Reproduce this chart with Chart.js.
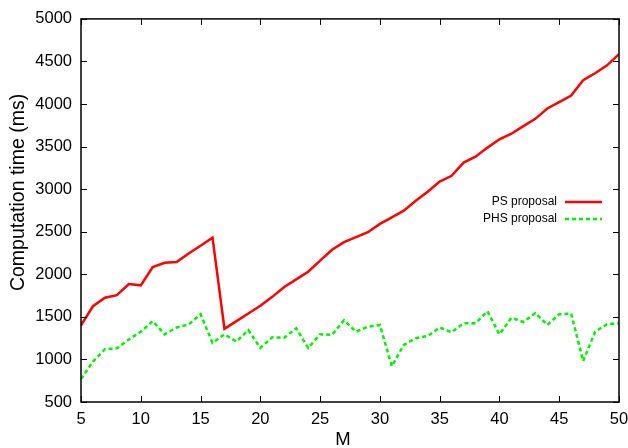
<!DOCTYPE html>
<html>
<head>
<meta charset="utf-8">
<script src="https://cdn.jsdelivr.net/npm/chart.js@4"></script>
<style>
  html, body { margin: 0; padding: 0; background: #fff; }
  #wrap { width: 628px; height: 448px; }
</style>
</head>
<body>
<div id="wrap"><canvas id="chart" width="628" height="448"></canvas></div>
<script>
// M values on the x axis
const mValues = [5, 6, 7, 8, 9, 10, 11, 12, 13, 14, 15, 16, 17, 18, 19, 20, 21, 22, 23, 24, 25, 26, 27,
    28, 29, 30, 31, 32, 33, 34, 35, 36, 37, 38, 39, 40, 41, 42, 43, 44, 45, 46, 47, 48, 49, 50];

// computation time in ms
const psTimes = [1400, 1625, 1725, 1755, 1885, 1870, 2085, 2135, 2145, 2245, 2335, 2430, 1360, 1450,
    1540, 1630, 1735, 1850, 1940, 2030, 2160, 2288, 2377, 2436, 2494, 2592, 2669, 2748, 2864, 2970,
    3090, 3157, 3312, 3382, 3488, 3586, 3651, 3741, 3826, 3948, 4022, 4100, 4279, 4361, 4454, 4586];

const phsTimes = [770, 975, 1120, 1130, 1235, 1325, 1450, 1295, 1375, 1410, 1530, 1195, 1295, 1210,
    1345, 1135, 1260, 1255, 1365, 1135, 1295, 1290, 1460, 1325, 1385, 1405, 920, 1170, 1250, 1275,
    1375, 1320, 1425, 1425, 1565, 1295, 1490, 1440, 1545, 1405, 1530, 1540, 980, 1325, 1415, 1425];

const seriesNames = ['PS proposal', 'PHS proposal'];
const xTicks = [5, 10, 15, 20, 25, 30, 35, 40, 45, 50];
const yTicks = [500, 1000, 1500, 2000, 2500, 3000, 3500, 4000, 4500, 5000];
const xTitle = 'M';
const yTitle = 'Computation time (ms)';

const FONT = 'Liberation Sans, Arial, Helvetica, sans-serif';
const RED = '#ff0000';
const GREEN = '#00ee00';

function toPoints(values) {
    return mValues.map((m, i) => ({ x: m, y: values[i] }));
}

// box border with inward ticks on all four sides, plus x labels and axis titles
const framePlugin = {
    id: 'frame',
    afterDatasetsDraw(chart) {
        const ctx = chart.ctx;
        const a = chart.chartArea;
        const xs = chart.scales.x;
        const ys = chart.scales.y;
        const len = 6;
        ctx.save();
        ctx.strokeStyle = '#000';
        ctx.lineWidth = 1.5;
        ctx.strokeRect(a.left, a.top, a.right - a.left, a.bottom - a.top);
        ctx.lineWidth = 1;
        ctx.beginPath();
        yTicks.forEach(v => {
            const y = Math.round(ys.getPixelForValue(v)) + 0.5;
            ctx.moveTo(a.left, y); ctx.lineTo(a.left + len, y);
            ctx.moveTo(a.right, y); ctx.lineTo(a.right - len, y);
        });
        xTicks.forEach(v => {
            const x = Math.round(xs.getPixelForValue(v)) + 0.5;
            ctx.moveTo(x, a.bottom); ctx.lineTo(x, a.bottom - len);
            ctx.moveTo(x, a.top); ctx.lineTo(x, a.top + len);
        });
        ctx.stroke();

        ctx.fillStyle = '#000';
        ctx.textAlign = 'center';
        ctx.textBaseline = 'alphabetic';
        ctx.font = '16.5px ' + FONT;
        xTicks.forEach(v => {
            ctx.fillText(String(v), xs.getPixelForValue(v), a.bottom + 22);
        });

        ctx.font = '18.5px ' + FONT;
        ctx.textBaseline = 'middle';
        ctx.fillText(xTitle, (a.left + a.right) / 2 - 7, 440);

        ctx.font = '19.5px ' + FONT;
        ctx.translate(19, (a.top + a.bottom) / 2 - 18);
        ctx.rotate(-Math.PI / 2);
        ctx.fillText(yTitle, 0, 0);
        ctx.restore();
    }
};

// key drawn inside the plot, gnuplot style (text then sample line)
const keyPlugin = {
    id: 'key',
    afterDraw(chart) {
        const ctx = chart.ctx;
        const textRight = 557;
        const lineStart = 565;
        const lineEnd = 602;
        const rows = [202, 219];
        ctx.save();
        ctx.font = '12px ' + FONT;
        ctx.textAlign = 'right';
        ctx.textBaseline = 'middle';
        chart.data.datasets.forEach((ds, i) => {
            ctx.fillStyle = '#000';
            ctx.fillText(ds.label, textRight, rows[i]);
            ctx.strokeStyle = ds.borderColor;
            ctx.lineWidth = ds.borderWidth;
            ctx.setLineDash(ds.borderDash || []);
            ctx.beginPath();
            ctx.moveTo(lineStart, rows[i]);
            ctx.lineTo(lineEnd, rows[i]);
            ctx.stroke();
        });
        ctx.restore();
    }
};

new Chart(document.getElementById('chart'), {
    type: 'line',
    data: {
        datasets: [
            {
                label: seriesNames[0],
                data: toPoints(psTimes),
                borderColor: RED,
                borderWidth: 2.5,
                pointRadius: 0,
                tension: 0
            },
            {
                label: seriesNames[1],
                data: toPoints(phsTimes),
                borderColor: GREEN,
                borderWidth: 2.5,
                borderDash: [4, 3],
                pointRadius: 0,
                tension: 0
            }
        ]
    },
    options: {
        responsive: false,
        animation: false,
        layout: { padding: { left: 0, top: 17, right: 9, bottom: 0 } },
        plugins: {
            legend: { display: false },
            tooltip: { enabled: false }
        },
        scales: {
            x: {
                type: 'linear',
                min: 5,
                max: 50,
                afterBuildTicks: s => { s.ticks = xTicks.map(v => ({ value: v })); },
                afterFit: s => { s.height = 46; },
                grid: { display: false, drawTicks: false },
                border: { display: false },
                ticks: { display: false }
            },
            y: {
                min: 500,
                max: 5000,
                afterBuildTicks: s => { s.ticks = yTicks.map(v => ({ value: v })); },
                afterFit: s => { s.width = 81; },
                grid: { display: false, drawTicks: false },
                border: { display: false },
                ticks: {
                    color: '#000',
                    padding: 9,
                    font: { family: FONT, size: 16.5 },
                    callback: v => String(v)
                }
            }
        }
    },
    plugins: [framePlugin, keyPlugin]
});
</script>
</body>
</html>
